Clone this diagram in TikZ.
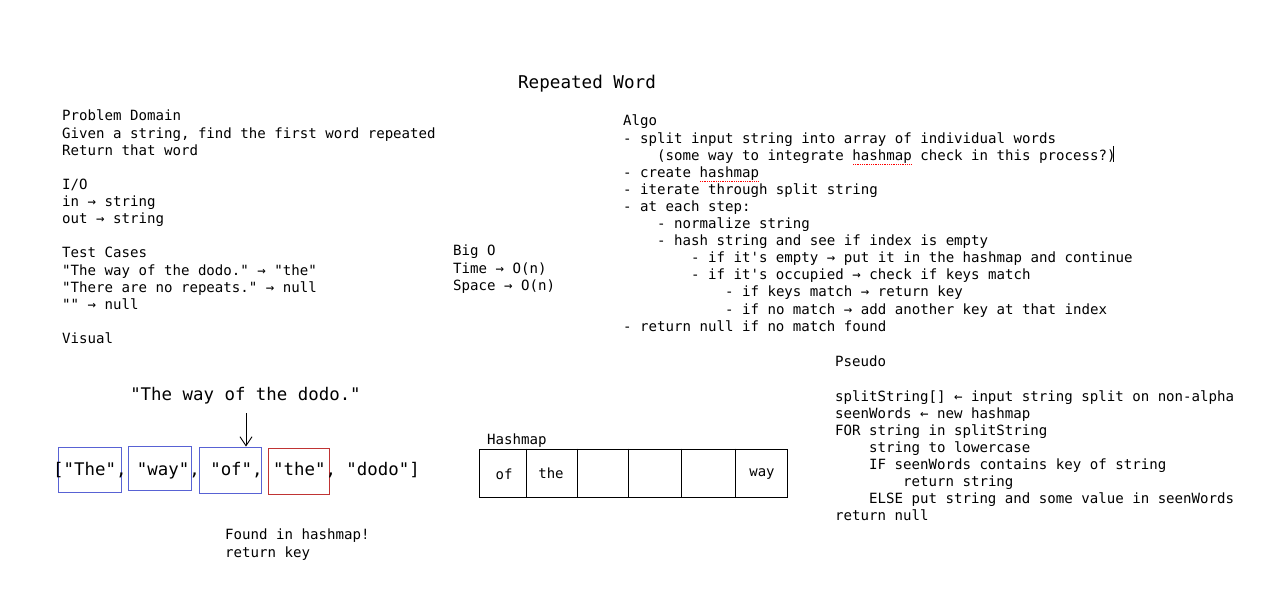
\documentclass[tikz,border=0pt]{standalone}
\usepackage{fontspec}
\setmonofont{DejaVu Sans Mono}
\usepackage{xcolor}
\usetikzlibrary{arrows.meta, positioning}

\definecolor{boxblue}{RGB}{88,98,212}
\definecolor{boxred}{RGB}{192,52,52}
\newcommand{\ind}[1]{\hphantom{\ttfamily #1}}

\tikzset{
	notes/.style = {inner sep = 0, anchor = north west, align = left, font = \ttfamily\fontsize{14.1}{17.1}\selectfont},
	wordbox/.style = {draw = boxblue, line width = 0.9pt, minimum width = 62, minimum height = 45, inner sep = 0},
	cell/.style = {inner sep = 0, font = \ttfamily\fontsize{14}{17}\selectfont}
}

\begin{document}
\begin{tikzpicture}[x = 1pt, y = -1pt]
		\useasboundingbox [fill = white] (0,0) rectangle (1283,596);

		\node [inner sep = 0, font = \ttfamily\fontsize{17.6}{20}\selectfont] (title) at (587,84) {Repeated Word};

		\node [notes] (domain) at (62,110) {Problem Domain\\
			Given a string, find the first word repeated\\
			Return that word\\[17.2pt]
			I/O\\
			in → string\\
			out → string\\[17.2pt]
			Test Cases\\
			"The way of the dodo." → "the"\\
			"There are no repeats." → null\\
			"" → null\\[17.2pt]
			Visual};

		\node [notes] (bigo) at (453,245) {Big O\\
			Time → O(n)\\
			Space → O(n)};

		\node [notes] (algo) at (623,115) {Algo\\
			- split input string into array of individual words\\
			\ind{xxxx}(some way to integrate hashmap check in this process?)\\
			- create hashmap\\
			- iterate through split string\\
			- at each step:\\
			\ind{xxxx}- normalize string\\
			\ind{xxxx}- hash string and see if index is empty\\
			\ind{xxxxxxxx}- if it's empty → put it in the hashmap and continue\\
			\ind{xxxxxxxx}- if it's occupied → check if keys match\\
			\ind{xxxxxxxxxxxx}- if keys match → return key\\
			\ind{xxxxxxxxxxxx}- if no match → add another key at that index\\
			- return null if no match found};
		% spell check marks and cursor
		\draw [red, densely dotted, line width = 0.8pt] (853,164) -- (911,164);
		\draw [red, densely dotted, line width = 0.8pt] (700,181) -- (758,181);
		\draw (1113,146) -- (1113,162);

		\node [notes] (pseudo) at (835,356) {Pseudo\\[17.1pt]
			splitString[] ← input string split on non-alpha\\
			seenWords ← new hashmap\\
			FOR string in splitString\\
			\ind{xxxx}string to lowercase\\
			\ind{xxxx}IF seenWords contains key of string\\
			\ind{xxxxxxxx}return string\\
			\ind{xxxx}ELSE put string and some value in seenWords\\
			return null};

		% visual
		\node [inner sep = 0, font = \ttfamily\fontsize{17.4}{20}\selectfont] (sentence) at (245.5,396) {"The way of the dodo."};
		\node [wordbox, minimum width = 63] (boxThe) at (89.5,469.5) {};
		\node [wordbox, minimum width = 63, minimum height = 44] (boxWay) at (159.5,468) {};
		\node [wordbox, minimum height = 46] (boxOf) at (230,470) {};
		\node [wordbox, draw = boxred, minimum width = 61, minimum height = 46] (boxThe2) at (298.5,471) {};
		\node [inner sep = 0, font = \ttfamily\fontsize{17.4}{20}\selectfont] (words) at (236.5,471) {["The", "way", "of", "the", "dodo"]};

		\coordinate (pointer) at (246,413);
		\draw [-{Straight Barb[length = 9pt, width = 12pt]}, line width = 0.9pt] (pointer) -- (pointer |- boxOf.north);

		\node [notes, font = \ttfamily\fontsize{14.1}{18}\selectfont] (found) at (225,529) {Found in hashmap!\\return key};

		% hashmap
		\node [notes] (hashlabel) at (487,434) {Hashmap};
		\node [draw, line width = 0.9pt, minimum width = 308, minimum height = 48, inner sep = 0] (hashmap) at (633,473) {};
		\foreach \x in {526,577,628,681,735}
			\draw [line width = 0.9pt] (\x,0 |- hashmap.north) -- (\x,0 |- hashmap.south);
		\node [cell] (cellOf) at (504,474) {of};
		\node [cell] (cellThe) at (551,473) {the};
		\node [cell] (cellWay) at (762,474) {way};
	\end{tikzpicture}
\end{document}
